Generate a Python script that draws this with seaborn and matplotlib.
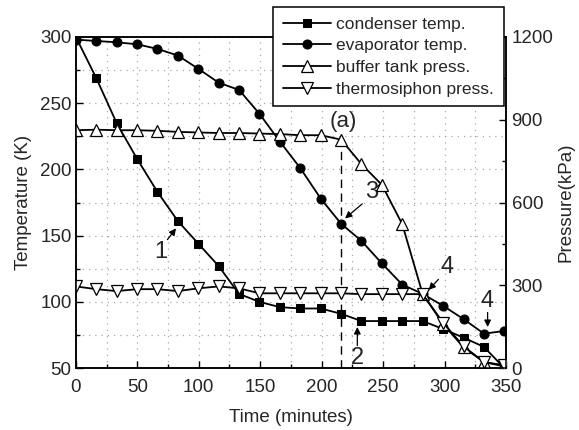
import numpy as np
import pandas as pd
import seaborn as sns
import matplotlib.pyplot as plt
from matplotlib.ticker import MultipleLocator

# data (minutes, K, kPa)
time = [0, 16.6, 33.2, 49.8, 66.4, 83, 99.6, 116.2, 132.8, 149.4, 166,
        182.6, 199.2, 215.8, 232.4, 249, 265.6, 282.2, 298.8, 315.4, 332, 348.6]
condenser = [300, 269, 235, 208, 183, 161, 144, 127, 106, 100, 96,
             95, 95, 91, 85.5, 85.5, 85.5, 85.5, 79.5, 73, 66, 50]
evaporator = [298, 297, 296, 294.5, 291, 286, 276, 265.5, 260, 242, 221,
              201, 178, 159, 146, 129, 113, 106, 97, 87, 76, 78]
buffer_tank = [862, 864, 862, 862, 860, 856, 854, 852, 852, 850, 848,
               844, 844, 828, 739, 664, 521, 268, 160, 75, 22, 6]
thermosiphon = [296, 286, 279, 286, 286, 279, 289, 296, 289, 271, 271,
                271, 271, 271, 268, 268, 268, 268, 164, 79, 22, 10]

sns.set_style("ticks")
plt.rcParams['font.family'] = ['Liberation Sans', 'DejaVu Sans']

fig = plt.figure(figsize=(5.79, 4.30), dpi=100)
ax1 = fig.add_axes([0.131, 0.144, 0.743, 0.770])
ax2 = ax1.twinx()

sns.lineplot(x=time, y=condenser, ax=ax1, color='k', lw=1.3, marker='s', markersize=6,
             markerfacecolor='k', markeredgecolor='k', label='condenser temp.', legend=False)
sns.lineplot(x=time, y=evaporator, ax=ax1, color='k', lw=1.3, marker='o', markersize=6.5,
             markerfacecolor='k', markeredgecolor='k', label='evaporator temp.', legend=False)
sns.lineplot(x=time, y=buffer_tank, ax=ax2, color='k', lw=1.3, marker='^', markersize=8,
             markerfacecolor='white', markeredgecolor='k', markeredgewidth=0.9,
             label='buffer tank press.', legend=False)
sns.lineplot(x=time, y=thermosiphon, ax=ax2, color='k', lw=1.3, marker='v', markersize=8,
             markerfacecolor='white', markeredgecolor='k', markeredgewidth=0.9,
             label='thermosiphon press.', legend=False)

ax1.set_xlim(0, 350)
ax1.set_ylim(50, 300)
ax2.set_ylim(0, 1200)
ax1.xaxis.set_major_locator(MultipleLocator(50))
ax1.xaxis.set_minor_locator(MultipleLocator(25))
ax1.yaxis.set_major_locator(MultipleLocator(50))
ax1.yaxis.set_minor_locator(MultipleLocator(25))
ax2.yaxis.set_major_locator(MultipleLocator(300))
ax2.yaxis.set_minor_locator(MultipleLocator(150))

ax1.grid(True, which='both', linestyle=(0, (1, 4)), color='#a8a8a8', lw=0.9)
ax1.set_axisbelow(True)

for ax in (ax1, ax2):
    ax.tick_params(which='both', direction='in', labelsize=13.5, width=1, color='k')
    ax.tick_params(which='major', length=5)
    ax.tick_params(which='minor', length=3)
    for s in ax.spines.values():
        s.set_visible(True)
        s.set_color('k')
        s.set_linewidth(1.1)
ax1.tick_params(axis='x', pad=8)
ax1.tick_params(axis='y', pad=3)
ax2.tick_params(axis='y', pad=4)

ax1.set_xlabel('Time (minutes)', fontsize=13.5, labelpad=9)
ax1.set_ylabel('Temperature (K)', fontsize=13.5, labelpad=6)
ax2.set_ylabel('Pressure(kPa)', fontsize=13.5, labelpad=3)

# dashed marker line and annotations
ax1.plot([215.8, 215.8], [50, 226], color='k', lw=1, ls=(0, (6, 4)))
ax1.text(218, 236, '(a)', fontsize=16, ha='center', va='center')
arrow = dict(arrowstyle='-|>', color='k', lw=0.9, mutation_scale=10, shrinkA=0, shrinkB=0)
ax1.text(69, 138, '1', fontsize=17, ha='center', va='center')
ax1.annotate('', xy=(81.5, 155.5), xytext=(74.5, 147), arrowprops=arrow)
ax1.text(229, 57.5, '2', fontsize=17, ha='center', va='center')
ax1.annotate('', xy=(229, 81), xytext=(229, 67), arrowprops=arrow)
ax1.annotate('', xy=(219, 163), xytext=(233, 174), arrowprops=arrow)
ax1.text(241, 183, '3', fontsize=17, ha='center', va='center')
ax1.plot([244, 249], [186, 190], color='k', lw=0.9)
ax1.text(302, 126, '4', fontsize=17, ha='center', va='center')
ax1.annotate('', xy=(287, 109), xytext=(295, 117), arrowprops=arrow)
ax1.text(334.5, 101, '4', fontsize=17, ha='center', va='center')
ax1.annotate('', xy=(335, 81), xytext=(335, 92), arrowprops=arrow)

h1, l1 = ax1.get_legend_handles_labels()
h2, l2 = ax2.get_legend_handles_labels()
leg = fig.legend(h1 + h2, l1 + l2, loc='upper left', bbox_to_anchor=(0.4715, 0.984),
                 fontsize=12.5, frameon=True, fancybox=False, framealpha=1,
                 edgecolor='k', handlelength=2.8, borderpad=0.55, labelspacing=0.38,
                 handletextpad=0.3, borderaxespad=0)
leg.get_frame().set_linewidth(1.1)

fig.savefig('out.png', dpi=100)
